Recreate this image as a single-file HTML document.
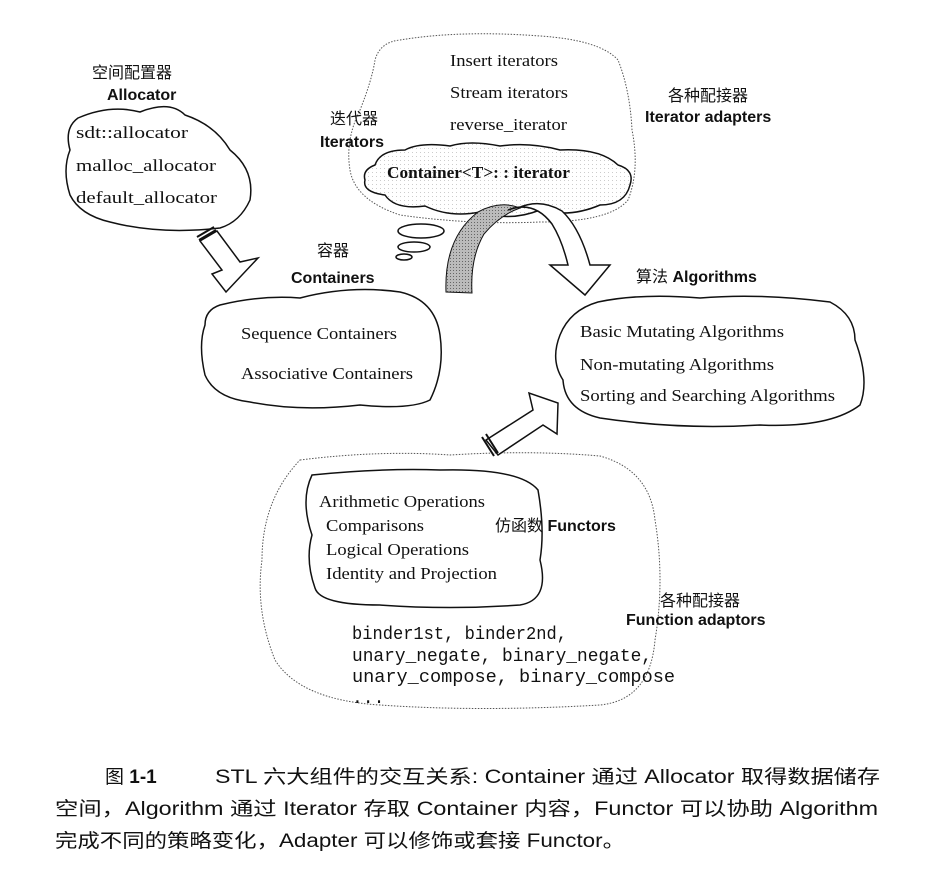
<!DOCTYPE html>
<html><head><meta charset="utf-8"><style>
html,body{margin:0;padding:0;background:#fff;}
svg{display:block;}
.s{font-family:"Liberation Serif",serif;font-size:17px;fill:#111;}
.b{font-family:"Liberation Sans",sans-serif;font-weight:bold;font-size:16px;fill:#111;}
.c{font-family:"Liberation Sans","Noto Sans CJK SC",sans-serif;font-size:16px;fill:#111;}
.m{font-family:"Liberation Mono",monospace;font-size:18px;fill:#111;}
.cap{font-family:"Liberation Sans","Noto Sans CJK SC",sans-serif;font-size:19px;fill:#111;}
</style></head><body>
<svg width="937" height="883" viewBox="0 0 937 883" xmlns="http://www.w3.org/2000/svg">
<defs>
<pattern id="g" width="3" height="3" patternUnits="userSpaceOnUse"><rect width="3" height="3" fill="#bbb"/><rect width="1" height="1" fill="#666"/></pattern>
<pattern id="d" width="4" height="4" patternUnits="userSpaceOnUse"><rect width="4" height="4" fill="#fff"/><rect width="1" height="1" fill="#ccc"/></pattern>
</defs>
<g fill="none" stroke="#111" stroke-width="1.5">
<path d="M400,40 Q460,30 540,36 Q600,40 618,60 Q630,90 632,130 Q640,170 628,200 Q610,222 540,222 Q470,225 400,215 Q355,200 350,170 Q345,140 360,110 Q372,80 375,60 Q380,42 400,40 Z" stroke="#555" stroke-width="1" stroke-dasharray="1.5,1.5"/>
<path d="M375,165 Q380,150 405,150 Q420,142 450,146 Q470,140 500,146 Q530,142 560,150 Q600,148 618,165 Q635,170 630,185 Q625,205 600,205 Q570,218 540,210 Q510,222 480,212 Q450,218 425,206 Q395,210 385,195 Q362,192 365,180 Q362,170 375,165 Z" fill="url(#d)"/>
<ellipse cx="421" cy="231" rx="23" ry="7"/>
<ellipse cx="414" cy="247" rx="16" ry="5"/>
<ellipse cx="404" cy="257" rx="8" ry="3"/>
<path d="M78,118 Q110,104 140,112 Q170,100 185,115 Q215,125 230,150 Q255,170 250,200 Q240,222 220,228 Q160,235 110,222 Q80,215 70,195 Q62,170 70,150 Q64,128 78,118 Z"/>
<path d="M220,305 Q260,295 300,298 Q350,285 400,292 Q435,300 440,335 Q445,370 430,400 Q410,410 360,405 Q300,412 250,402 Q215,398 205,375 Q198,345 205,325 Q205,310 220,305 Z"/>
<path d="M598,302 Q640,293 700,298 Q760,293 830,302 Q855,315 855,340 Q870,380 860,405 Q830,428 760,425 Q680,430 600,418 Q565,410 563,380 Q550,360 560,335 Q570,310 598,302 Z"/>
<path d="M300,460 Q380,450 450,455 Q530,450 600,456 Q650,470 655,520 Q665,580 655,640 Q650,700 600,705 Q480,712 380,705 Q300,700 275,660 Q255,610 262,560 Q262,500 300,460 Z" stroke="#555" stroke-width="1" stroke-dasharray="1.5,1.5"/>
<path d="M312,475 Q380,468 440,470 Q520,468 538,490 Q545,530 540,560 Q550,600 520,605 Q450,610 380,605 Q320,605 315,588 Q305,560 312,535 Q300,500 312,475 Z"/>
<!-- allocator arrow -->
<path d="M200,241 L217,231 L240,262 L258,258 L226,292 L212,274 L222,270 Z" fill="#fff"/>
<path d="M197,237 L214,227 M199,240 L216,230" stroke-width="2"/>
<!-- functor arrow -->
<path d="M486,440 L533,410 L529,393 L558,403 L557,434 L543,425 L498,455 Z" fill="#fff"/>
<path d="M482,437 L494,456 M486,434 L498,453" stroke-width="2"/>
<!-- arch arrow -->
<path d="M446,292 Q444,238 478,212 Q500,200 520,208 Q500,215 484,234 Q470,258 472,293 Z" fill="url(#g)" stroke-width="1"/>
<path d="M508,210 Q534,200 552,224 Q562,240 568,265 L550,265 L585,295 L610,265 L590,265 Q580,228 562,211 Q540,198 518,208" fill="#fff"/>
</g>
<text class="c" x="92" y="78">空间配置器</text>
<text class="b" x="107" y="100">Allocator</text>
<text class="s" x="76" y="138" textLength="112" lengthAdjust="spacingAndGlyphs">sdt::allocator</text>
<text class="s" x="76" y="171" textLength="140" lengthAdjust="spacingAndGlyphs">malloc_allocator</text>
<text class="s" x="76" y="203" textLength="141" lengthAdjust="spacingAndGlyphs">default_allocator</text>
<text class="s" x="450" y="66" textLength="108" lengthAdjust="spacingAndGlyphs">Insert iterators</text>
<text class="s" x="450" y="98" textLength="118" lengthAdjust="spacingAndGlyphs">Stream iterators</text>
<text class="s" x="450" y="130" textLength="117" lengthAdjust="spacingAndGlyphs">reverse_iterator</text>
<text class="c" x="330" y="124">迭代器</text>
<text class="b" x="320" y="147">Iterators</text>
<text class="s" x="387" y="178" font-weight="bold" textLength="183" lengthAdjust="spacingAndGlyphs">Container&lt;T&gt;: : iterator</text>
<text class="c" x="668" y="101">各种配接器</text>
<text class="b" x="645" y="122">Iterator adapters</text>
<text class="c" x="317" y="256">容器</text>
<text class="b" x="291" y="283">Containers</text>
<text class="s" x="241" y="339" textLength="156" lengthAdjust="spacingAndGlyphs">Sequence Containers</text>
<text class="s" x="241" y="379" textLength="172" lengthAdjust="spacingAndGlyphs">Associative Containers</text>
<text class="c" x="636" y="282">算法 <tspan font-weight="bold">Algorithms</tspan></text>
<text class="s" x="580" y="337" textLength="204" lengthAdjust="spacingAndGlyphs">Basic Mutating Algorithms</text>
<text class="s" x="580" y="370" textLength="194" lengthAdjust="spacingAndGlyphs">Non-mutating Algorithms</text>
<text class="s" x="580" y="401" textLength="255" lengthAdjust="spacingAndGlyphs">Sorting and Searching Algorithms</text>
<text class="s" x="319" y="507" textLength="166" lengthAdjust="spacingAndGlyphs">Arithmetic Operations</text>
<text class="s" x="326" y="531" textLength="98" lengthAdjust="spacingAndGlyphs">Comparisons</text>
<text class="s" x="326" y="555" textLength="143" lengthAdjust="spacingAndGlyphs">Logical Operations</text>
<text class="s" x="326" y="579" textLength="171" lengthAdjust="spacingAndGlyphs">Identity and Projection</text>
<text class="c" x="495" y="531">仿函数 <tspan font-weight="bold">Functors</tspan></text>
<text class="c" x="660" y="606">各种配接器</text>
<text class="b" x="626" y="625">Function adaptors</text>
<text class="m" x="352" y="639" textLength="215" lengthAdjust="spacingAndGlyphs">binder1st, binder2nd,</text>
<text class="m" x="352" y="661" textLength="300" lengthAdjust="spacingAndGlyphs">unary_negate, binary_negate,</text>
<text class="m" x="352" y="682" textLength="323" lengthAdjust="spacingAndGlyphs">unary_compose, binary_compose</text>
<text class="m" x="352" y="703">...</text>
<text class="cap" x="105" y="783">图 <tspan font-weight="bold">1-1</tspan></text>
<text class="cap" x="215" y="783" textLength="665" lengthAdjust="spacingAndGlyphs">STL 六大组件的交互关系: Container 通过 Allocator 取得数据储存</text>
<text class="cap" x="55" y="815" textLength="823" lengthAdjust="spacingAndGlyphs">空间，Algorithm 通过 Iterator 存取 Container 内容，Functor 可以协助 Algorithm</text>
<text class="cap" x="55" y="847" textLength="570" lengthAdjust="spacingAndGlyphs">完成不同的策略变化，Adapter 可以修饰或套接 Functor。</text>
</svg>
</body></html>
